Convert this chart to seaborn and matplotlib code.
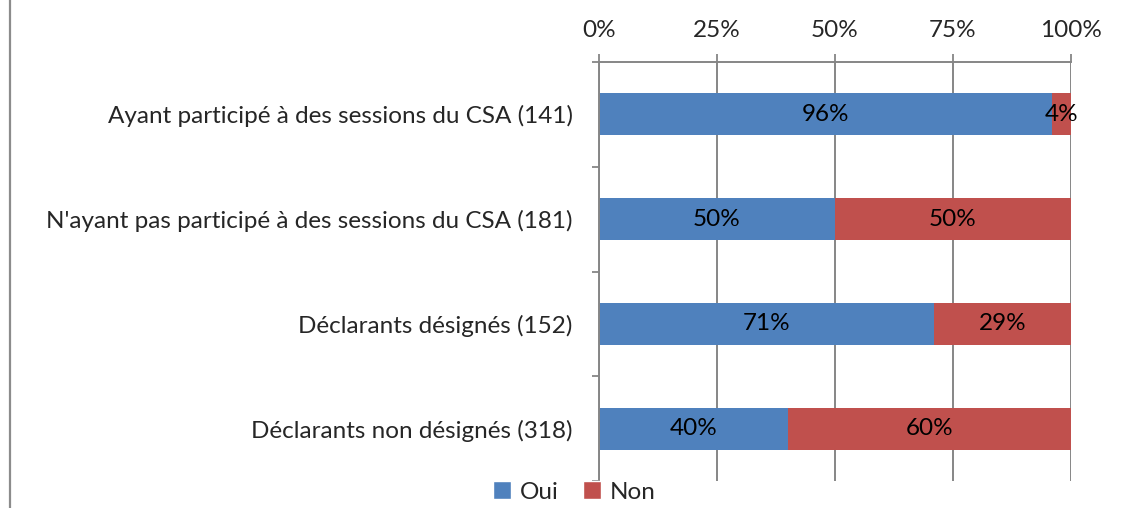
import matplotlib
matplotlib.use("Agg")
import matplotlib.pyplot as plt
from matplotlib.lines import Line2D
from matplotlib.patches import Patch
from matplotlib.ticker import FixedLocator, PercentFormatter
import seaborn as sns
import pandas as pd

categories = [
    "Ayant participé à des sessions du CSA (141)",
    "N'ayant pas participé à des sessions du CSA (181)",
    "Déclarants désignés (152)",
    "Déclarants non désignés (318)",
]
oui = [96, 50, 71, 40]
non = [4, 50, 29, 60]
x_ticks = [0, 25, 50, 75, 100]

BLUE = "#4F81BD"
RED = "#C0504D"
GRID = "#868686"
FS = 17.5

sns.set_theme(style="white")
plt.rcParams["font.family"] = ["Lato", "DejaVu Sans"]

df = pd.DataFrame({"cat": categories, "Oui": oui, "Non": non})
df["total"] = df["Oui"] + df["Non"]

fig = plt.figure(figsize=(11.42, 5.08), dpi=100)
ax = fig.add_axes([599 / 1142, 1 - 481 / 508, (1071 - 599) / 1142, (481 - 62) / 508])

# stacked bars: full width in red underneath, "Oui" share in blue on top
sns.barplot(data=df, x="total", y="cat", color=RED, width=0.4, ax=ax,
            saturation=1, edgecolor="none", zorder=3)
sns.barplot(data=df, x="Oui", y="cat", color=BLUE, width=0.4, ax=ax,
            saturation=1, edgecolor="none", zorder=4)

for i, (o, n) in enumerate(zip(oui, non)):
    ax.text(o / 2, i, f"{o}%", ha="center", va="center", fontsize=FS,
            color="black", zorder=6)
    ax.text(o + n / 2, i, f"{n}%", ha="center", va="center", fontsize=FS,
            color="black", zorder=6)

ax.set_xlim(0, 100)
ax.set_ylim(3.5, -0.5)
ax.set_xlabel("")
ax.set_ylabel("")

ax.xaxis.tick_top()
ax.set_xticks(x_ticks)
ax.xaxis.set_major_formatter(PercentFormatter(decimals=0))
ax.tick_params(axis="x", which="major", top=True, bottom=False, length=6,
               width=1.3, color=GRID, pad=9, labelsize=FS)
ax.grid(axis="x", color=GRID, linewidth=1.4, zorder=1)
ax.grid(axis="y", visible=False)

ax.tick_params(axis="y", which="major", length=0, pad=19, labelsize=FS)
ax.yaxis.set_minor_locator(FixedLocator([-0.5, 0.5, 1.5, 2.5, 3.5]))
ax.tick_params(axis="y", which="minor", left=True, length=5, width=1.3,
               color=GRID)

for side in ["right", "bottom"]:
    ax.spines[side].set_visible(False)
for side in ["top", "left"]:
    ax.spines[side].set_color(GRID)
    ax.spines[side].set_linewidth(1.4)
    ax.spines[side].set_zorder(5)

handles = [Patch(facecolor=BLUE, label="Oui"), Patch(facecolor=RED, label="Non")]
fig.legend(handles=handles, loc="center", bbox_to_anchor=(574 / 1142, 1 - 492 / 508),
           ncol=2, frameon=False, fontsize=FS, handlelength=0.75,
           handleheight=0.75, handletextpad=0.35, columnspacing=1.0,
           borderpad=0)

fig.add_artist(Line2D([9.5 / 1142, 9.5 / 1142], [0, 1], color="#8c8c8c",
                      linewidth=1.6, transform=fig.transFigure))

fig.savefig("out.png", dpi=100)
